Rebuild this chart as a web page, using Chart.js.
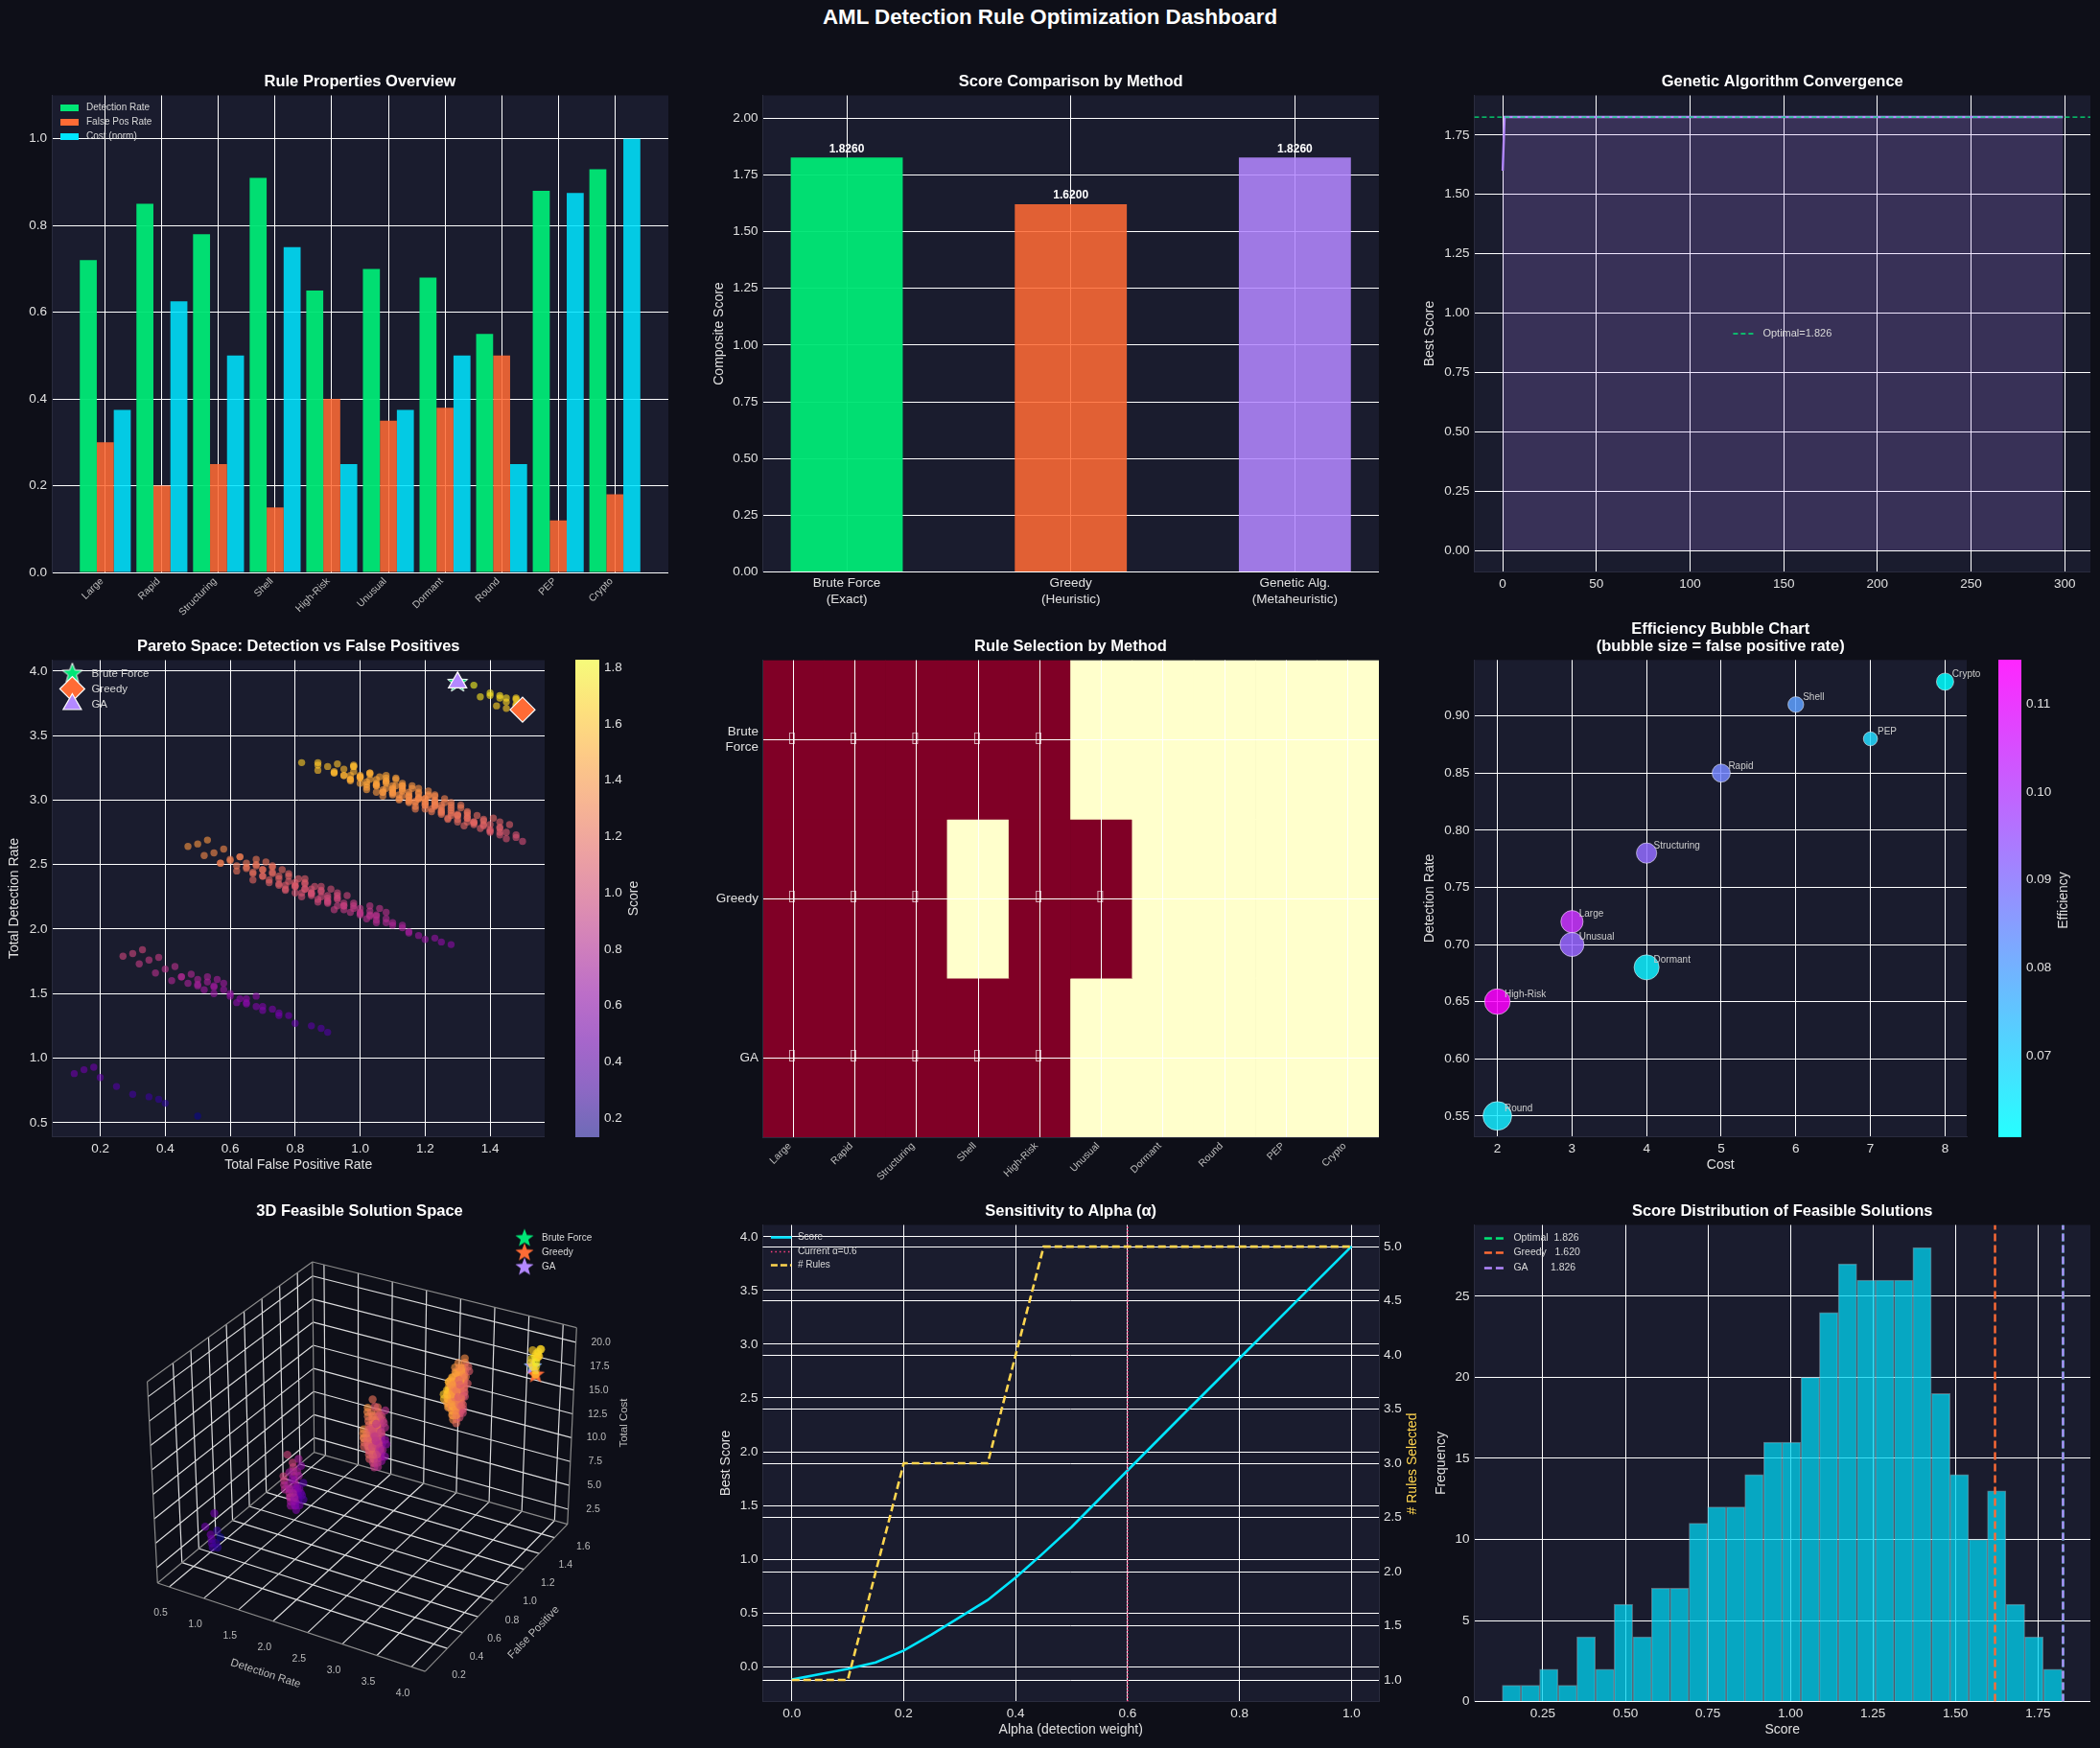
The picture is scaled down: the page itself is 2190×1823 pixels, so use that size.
<!DOCTYPE html>
<html>
<head>
<meta charset="utf-8">
<title>AML Detection Rule Optimization Dashboard</title>
<script src="https://cdn.jsdelivr.net/npm/chart.js@4/dist/chart.umd.min.js"></script>
<style>
  html, body { margin: 0; background: #0e0f18; width: 2190px; height: 1823px; overflow: hidden; }
  #fig { position: relative; width: 2190px; height: 1823px; }
  #fig canvas { position: absolute; }
  #suptitle { position: absolute; left: 0; width: 2190px; top: 5px; text-align: center; color: #fff;
    font: bold 22.3px "Liberation Sans", sans-serif; }
</style>
</head>
<body>
<div id="fig"><div id="suptitle">AML Detection Rule Optimization Dashboard</div></div>
<script>
// --- rules
const ruleNames = ['Large', 'Rapid', 'Structuring', 'Shell', 'High-Risk', 'Unusual', 'Dormant', 'Round', 'PEP', 'Crypto'];
const ruleDetection = [0.72, 0.85, 0.78, 0.91, 0.65, 0.70, 0.68, 0.55, 0.88, 0.93];
const ruleFalsePos = [0.30, 0.20, 0.25, 0.15, 0.40, 0.35, 0.38, 0.50, 0.12, 0.18];
const ruleCost = [3, 5, 4, 6, 2, 3, 4, 2, 7, 8];
const ruleCostNorm = [0.375, 0.625, 0.5, 0.75, 0.25, 0.375, 0.5, 0.25, 0.875, 1.0];
const ruleEfficiency = [0.104, 0.086, 0.092, 0.081, 0.115, 0.0933, 0.064, 0.065, 0.0686, 0.0608];

// --- methods
const methodLabels = [['Brute Force', '(Exact)'], ['Greedy', '(Heuristic)'], ['Genetic Alg.', '(Metaheuristic)']];
const methodScores = [1.826, 1.62, 1.826];
const methodPoints = { brute: [1.30, 3.91, 20], greedy: [1.50, 3.70, 17], ga: [1.30, 3.91, 20] };
const selectionRows = [['Brute', 'Force'], 'Greedy', 'GA'];
const selBrute = [1, 1, 1, 1, 1, 0, 0, 0, 0, 0];
const selGreedy = [1, 1, 1, 0, 1, 1, 0, 0, 0, 0];
const selGA = [1, 1, 1, 1, 1, 0, 0, 0, 0, 0];

// --- GA convergence
const gaGenerations = [0, 1, 299];
const gaBest = [1.6, 1.826, 1.826];

// --- alpha sensitivity
const alphaValues = [0, 0.05, 0.1, 0.15, 0.2, 0.25, 0.3, 0.35, 0.4, 0.45, 0.5, 0.6, 0.7, 0.8, 0.9, 1.0];
const alphaScores = [-0.12, -0.07, -0.02, 0.04, 0.15, 0.30, 0.46, 0.62, 0.83, 1.06, 1.30, 1.826, 2.35, 2.87, 3.39, 3.91];
const alphaRules = [1, 1, 1, 2, 3, 3, 3, 3, 4, 5, 5, 5, 5, 5, 5, 5];

// --- score histogram
const histCenters = [0.155, 0.212, 0.268, 0.325, 0.381, 0.438, 0.494, 0.551, 0.607, 0.664, 0.721, 0.777, 0.834, 0.890, 0.947,
  1.003, 1.060, 1.116, 1.173, 1.230, 1.286, 1.343, 1.399, 1.456, 1.512, 1.569, 1.625, 1.682, 1.738, 1.795];
const histCounts = [1, 1, 2, 1, 4, 2, 6, 4, 7, 7, 11, 12, 12, 14, 16, 16, 20, 24, 27, 26, 26, 26, 28, 19, 14, 10, 13, 6, 4, 2];

// --- feasible rule sets, grouped by how many rules they hold
const pairFp = [.50,.55,.45,.70,.65,.68,.80,.42,.48,.45,.35,.60,.55,.58,.70,.32,.38,.40,.65,.60,.63,.75,.37,.43,.55,.50,.53,.65,.27,.33,.75,.78,.90,.52,.58,.73,.85,.47,.53,.88,.50,.56,.62,.68,.30];
const pairDet = [1.57,1.50,1.63,1.37,1.42,1.40,1.27,1.60,1.65,1.63,1.76,1.50,1.55,1.53,1.40,1.73,1.78,1.69,1.43,1.48,1.46,1.33,1.66,1.71,1.56,1.61,1.59,1.46,1.79,1.84,1.35,1.33,1.20,1.53,1.58,1.38,1.25,1.58,1.63,1.23,1.56,1.61,1.43,1.48,1.81];
const pairCost = [8,7,9,5,6,7,5,10,11,9,11,7,8,9,7,12,13,10,6,7,8,6,11,12,8,9,10,8,13,14,5,6,4,9,10,7,5,10,11,6,11,12,9,10,15];

const tripleFp = [.75,.65,.90,.85,.88,1.00,.62,.68, .70,.95,.90,.93,1.05,.67,.73, .85,.80,.83,.95,.57,.63, 1.05,1.08,1.20,.82,.88, 1.03,1.15,.77,.83, 1.18,.80,.86, .92,.98, .60,
  .60,.85,.80,.83,.95,.57,.63, .75,.70,.73,.85,.47,.53, .95,.98,1.10,.72,.78, .93,1.05,.67,.73, 1.08,.70,.76, .82,.88, .50,
  .80,.75,.78,.90,.52,.58, 1.00,1.03,1.15,.77,.83, .98,1.10,.72,.78, 1.13,.75,.81, .87,.93, .55,
  .90,.93,1.05,.67,.73, .88,1.00,.62,.68, 1.03,.65,.71, .77,.83, 1.13,1.25,.87,.93, 1.28,.90,.96, 1.02,1.08, .70, 1.23,.85,.91, .97,1.03, .65, 1.00,1.06, .68, .80];
const tripleDet = [2.35,2.48,2.22,2.27,2.25,2.12,2.45,2.50, 2.41,2.15,2.20,2.18,2.05,2.38,2.43, 2.28,2.33,2.31,2.18,2.51,2.56, 2.07,2.05,1.92,2.25,2.30, 2.10,1.97,2.30,2.35, 1.95,2.28,2.33, 2.15,2.20, 2.53,
  2.54,2.28,2.33,2.31,2.18,2.51,2.56, 2.41,2.46,2.44,2.31,2.64,2.69, 2.20,2.18,2.05,2.38,2.43, 2.23,2.10,2.43,2.48, 2.08,2.41,2.46, 2.28,2.33, 2.66,
  2.34,2.39,2.37,2.24,2.57,2.62, 2.13,2.11,1.98,2.31,2.36, 2.16,2.03,2.36,2.41, 2.01,2.34,2.39, 2.21,2.26, 2.59,
  2.26,2.24,2.11,2.44,2.49, 2.29,2.16,2.49,2.54, 2.14,2.47,2.52, 2.34,2.39, 2.03,1.90,2.23,2.28, 1.88,2.21,2.26, 2.08,2.13, 2.46, 1.93,2.26,2.31, 2.13,2.18, 2.51, 2.11,2.16, 2.49, 2.36];
const tripleCost = [12,14,10,11,12,10,15,16, 13,9,10,11,9,14,15, 11,12,13,11,16,17, 8,9,7,12,13, 10,8,13,14, 9,14,15, 12,13, 18,
  15,11,12,13,11,16,17, 13,14,15,13,18,19, 10,11,9,14,15, 12,10,15,16, 11,16,17, 14,15, 20,
  12,13,14,12,17,18, 9,10,8,13,14, 11,9,14,15, 10,15,16, 13,14, 19,
  11,12,10,15,16, 13,11,16,17, 12,17,18, 15,16, 9,7,12,13, 8,13,14, 11,12, 17, 9,14,15, 12,13, 18, 13,14, 19, 17];

const quadFp = [.90,1.15,1.10,1.13,1.25,.87,.93, 1.05,1.00,1.03,1.15, 1.25,1.28,1.40,1.02,1.08, 1.23,1.35,.97,1.03, 1.38,1.00,1.06, 1.12,1.18,
  1.10,1.05,1.08,1.20,.82, 1.30,1.33,1.45,1.07,1.13, 1.28,1.40,1.02,1.08, 1.43,1.05,1.11, 1.17,1.23,
  1.20,1.23,1.35,.97,1.03, 1.18,1.30,.92,.98, 1.33,.95, 1.07,1.13, 1.43,1.17,1.23, 1.20,1.26, 1.32,1.38, 1.00, 1.15,1.21, 1.27,1.33, 1.30,1.36, 1.10,
  1.00,.95,.98,1.10, 1.20,1.23,1.35,.97,1.03, 1.18,1.30,.92,.98, 1.33,.95, 1.07,1.13, 1.10,1.13,1.25,.87, 1.08,1.20, 1.23, .97,
  1.33,1.45,1.07,1.13, 1.48,1.10,1.16, 1.22,1.28, 1.43,1.05,1.11, 1.17,1.23, 1.20,1.26,
  1.15,1.18,1.30,.92,.98, 1.13,1.25,.87, 1.28, 1.02,1.08, 1.38,1.50,1.12,1.18, 1.15,1.21, 1.27,1.33, 1.48,1.10,1.16, 1.22,1.28, 1.25,1.31,
  1.28,1.40,1.02,1.08, 1.43,1.05,1.11, 1.17,1.23, 1.38,1.00, 1.12,1.18, 1.15,1.21, 1.25,1.31, 1.37,1.43, 1.05, 1.40,1.46, 1.20, 1.35,1.41, 1.15];
const quadDet = [3.26,3.00,3.05,3.03,2.90,3.23,3.28, 3.13,3.18,3.16,3.03, 2.92,2.90,2.77,3.10,3.15, 2.95,2.82,3.15,3.20, 2.80,3.13,3.18, 3.00,3.05,
  3.06,3.11,3.09,2.96,3.29, 2.85,2.83,2.70,3.03,3.08, 2.88,2.75,3.08,3.13, 2.73,3.06,3.11, 2.93,2.98,
  2.98,2.96,2.83,3.16,3.21, 3.01,2.88,3.21,3.26, 2.86,3.19, 3.06,3.11, 2.75,2.95,3.00, 2.93,2.98, 2.80,2.85, 3.18, 2.98,3.03, 2.85,2.90, 2.83,2.88, 3.08,
  3.19,3.24,3.22,3.09, 2.98,2.96,2.83,3.16,3.21, 3.01,2.88,3.21,3.26, 2.86,3.19, 3.06,3.11, 3.11,3.09,2.96,3.29, 3.14,3.01, 2.99, 3.19,
  2.88,2.75,3.08,3.13, 2.73,3.06,3.11, 2.93,2.98, 2.78,3.11,3.16, 2.98,3.03, 2.96,3.01,
  3.04,3.02,2.89,3.22,3.27, 3.07,2.94,3.27, 2.92, 3.12,3.17, 2.81,2.68,3.01,3.06, 2.99,3.04, 2.86,2.91, 2.71,3.04,3.09, 2.91,2.96, 2.89,2.94,
  2.94,2.81,3.14,3.19, 2.79,3.12,3.17, 2.99,3.04, 2.84,3.17, 3.04,3.09, 3.02,3.07, 2.91,2.96, 2.78,2.83, 3.16, 2.76,2.81, 3.01, 2.81,2.86, 3.06];
const quadCost = [18,14,15,16,14,19,20, 16,17,18,16, 13,14,12,17,18, 15,13,18,19, 14,19,20, 17,18,
  15,16,17,15,20, 12,13,11,16,17, 14,12,17,18, 13,18,19, 16,17,
  14,15,13,18,19, 16,14,19,20, 15,20, 18,19, 12,15,16, 16,17, 14,15, 20, 17,18, 15,16, 16,17, 20,
  17,18,19,17, 14,15,13,18,19, 16,14,19,20, 15,20, 18,19, 16,17,15,20, 18,16, 17, 20,
  14,12,17,18, 13,18,19, 16,17, 14,19,20, 17,18, 18,19,
  15,16,14,19,20, 17,15,20, 16, 19,20, 13,11,16,17, 17,18, 15,16, 13,18,19, 16,17, 17,18,
  15,13,18,19, 14,19,20, 17,18, 15,20, 18,19, 19,20, 16,17, 14,15, 20, 15,16, 19, 16,17, 20];

const fiveFp = [1.30,1.50,1.40,1.43,1.50,1.40,1.48,1.37,1.45,1.48,1.43,1.42,1.45,1.48,1.35,1.50,1.45,1.48];
const fiveDet = [3.91,3.70,3.83,3.81,3.73,3.81,3.73,3.80,3.76,3.74,3.79,3.73,3.71,3.78,3.89,3.74,3.79,3.79];
const fiveCost = [20,17,19,20,19,20,19,20,18,19,20,19,20,20,20,19,20,20];

const feasibleFp = [...ruleFalsePos, ...pairFp, ...tripleFp, ...quadFp, ...fiveFp];
const feasibleDet = [...ruleDetection, ...pairDet, ...tripleDet, ...quadDet, ...fiveDet];
const feasibleCost = [...ruleCost, ...pairCost, ...tripleCost, ...quadCost, ...fiveCost];

// --- tick values
const binaryTicks = [0, 0.2, 0.4, 0.6, 0.8, 1.0];
const currentAlpha = 0.6;

// --- look
const GREEN = '#00E676', ORANGE = '#FF6B35', CYAN = '#00E5FF', PURPLE = '#B388FF', YELLOW = '#FFD54F', PINK = '#FF4081';
const PLOT_BG = '#1a1c2e', TICK = '#e0e0e0', SPINE = '#2a2c3e';
Chart.defaults.font.family = '"Liberation Sans", Arial, sans-serif';
Chart.defaults.animation = false;

const PLASMA = [[13,8,135],[65,4,157],[106,0,168],[143,13,164],[177,42,144],[204,71,120],[225,100,98],[242,132,75],[252,166,54],[252,206,37],[240,249,33]];
function plasmaRgb(t) {
  t = Math.min(1, Math.max(0, t)) * 10;
  const i = Math.min(9, Math.floor(t)), f = t - i;
  return PLASMA[i].map((c, k) => Math.round(c + (PLASMA[i + 1][k] - c) * f));
}
function scoreColor(det, fp, a = 0.62) {
  const score = currentAlpha * det - (1 - currentAlpha) * fp;
  const [r, g, b] = plasmaRgb((score - 0.13) / (1.826 - 0.13));
  return `rgba(${r},${g},${b},${a})`;
}
function coolColor(eff, a = 0.85) {
  const t = (eff - 0.0608) / (0.115 - 0.0608);
  return `rgba(${Math.round(255 * t)},${Math.round(255 * (1 - t))},255,${a})`;
}

function starImage(r, fill, stroke) {
  const c = document.createElement('canvas');
  c.width = c.height = Math.ceil(r * 2 + 2);
  const g = c.getContext('2d');
  g.translate(c.width / 2, c.height / 2);
  g.beginPath();
  for (let i = 0; i < 10; i++) {
    const rad = i % 2 ? r * 0.42 : r, ang = -Math.PI / 2 + i * Math.PI / 5;
    g[i ? 'lineTo' : 'moveTo'](Math.cos(ang) * rad, Math.sin(ang) * rad);
  }
  g.closePath();
  g.fillStyle = fill;
  g.fill();
  if (stroke) { g.strokeStyle = stroke; g.lineWidth = 1; g.stroke(); }
  return c;
}

function axis(position, min, max, tickValues, o = {}) {
  return {
    type: 'linear', position, min, max, reverse: !!o.reverse, display: o.display !== false, offset: false,
    afterBuildTicks: s => { s.ticks = tickValues.map(v => ({ value: v })); },
    afterFit: s => {
      if (position === 'bottom') s.height = o.size; else s.width = o.size;
      s.paddingLeft = s.paddingRight = s.paddingTop = s.paddingBottom = 0;
    },
    grid: { color: '#ffffff', lineWidth: 1, drawTicks: false, offset: false, z: o.gridZ || 0, display: o.grid !== false },
    border: { color: SPINE, width: 1, z: o.gridZ || 0 },
    ticks: {
      color: o.tickColor || TICK, font: { size: o.fontSize || 13.5 }, padding: o.pad === undefined ? 5 : o.pad,
      labelOffset: o.labelOffset || 0,
      autoSkip: false, maxRotation: o.rot || 0, minRotation: o.rot || 0, callback: o.fmt || (v => v)
    },
    title: o.title ? { display: true, text: o.title, color: TICK, font: { size: 14 }, padding: 0 } : { display: false }
  };
}

function drawLegend(ctx, lg) {
  ctx.font = `${lg.size || 10}px "Liberation Sans"`;
  ctx.textBaseline = 'middle';
  ctx.textAlign = 'left';
  lg.items.forEach(it => {
    const midX = (lg.x0 + lg.x1) / 2;
    ctx.save();
    if (it.kind === 'patch') {
      ctx.fillStyle = it.color;
      ctx.fillRect(lg.x0, it.y - 3.5, lg.x1 - lg.x0, 7);
    } else if (it.kind === 'line') {
      ctx.strokeStyle = it.color;
      ctx.lineWidth = it.width || 2;
      ctx.setLineDash(it.dash || []);
      ctx.beginPath();
      ctx.moveTo(lg.x0, it.y);
      ctx.lineTo(lg.x1, it.y);
      ctx.stroke();
    } else {
      ctx.fillStyle = it.color;
      ctx.strokeStyle = '#ffffff';
      ctx.lineWidth = 1.2;
      Chart.helpers.drawPoint(ctx, { pointStyle: it.style, radius: it.radius, rotation: 0, borderWidth: 1.2 }, midX, it.y);
    }
    ctx.restore();
    ctx.fillStyle = lg.color || '#d8d8d8';
    ctx.fillText(it.label, lg.textX, it.y);
  });
}

// canvas box + plot rect in page pixels; chart area lands exactly on the plot rect
function panel(box, config, extra = {}) {
  const cv = document.createElement('canvas');
  cv.width = box.x1 - box.x0;
  cv.height = box.y1 - box.y0;
  cv.style.left = box.x0 + 'px';
  cv.style.top = box.y0 + 'px';
  document.getElementById('fig').appendChild(cv);
  config.options = config.options || {};
  Object.assign(config.options, { responsive: false, maintainAspectRatio: false, devicePixelRatio: 1, events: [] });
  const titleLines = [].concat(extra.title || []);
  const titleLh = extra.titleLh || 1.2;
  config.options.layout = { autoPadding: false, padding: { left: 0, bottom: 0, top: 0, right: box.padRight || 0 } };
  config.options.plugins = {
    legend: { display: false },
    tooltip: { enabled: false },
    title: extra.title ? {
      display: true, text: titleLines, color: '#ffffff', fullSize: false,
      font: { size: 16.5, weight: 'bold', lineHeight: titleLh },
      padding: { top: 0, bottom: box.t - box.y0 - titleLines.length * 16.5 * titleLh }
    } : { display: false }
  };
  config.plugins = [{
    id: 'fig',
    beforeDraw(chart) {
      if (extra.plotBg === false) return;
      const a = chart.chartArea;
      chart.ctx.fillStyle = extra.plotBg || PLOT_BG;
      chart.ctx.fillRect(a.left, a.top, a.right - a.left, a.bottom - a.top);
    },
    afterDraw(chart) {
      const ctx = chart.ctx;
      ctx.save();
      ctx.translate(-box.x0, -box.y0);
      if (extra.after) extra.after(chart, ctx);
      (extra.texts || []).forEach(t => {
        ctx.save();
        ctx.translate(t.x, t.y);
        ctx.rotate((t.rot || 0) * Math.PI / 180);
        ctx.font = `${t.size || 14}px "Liberation Sans"`;
        ctx.fillStyle = t.color || TICK;
        ctx.textAlign = 'center';
        ctx.textBaseline = 'middle';
        ctx.fillText(t.text, 0, 0);
        ctx.restore();
      });
      if (extra.legend) drawLegend(ctx, extra.legend);
      ctx.restore();
    }
  }];
  return new Chart(cv, config);
}

function colorbar(box, ticks, min, max, stops, fmt, text) {
  panel(box, {
    type: 'scatter',
    data: { datasets: [] },
    options: {
      scales: {
        x: { type: 'linear', display: false },
        y: Object.assign(axis('right', min, max, ticks, { size: box.x1 - box.r, grid: false, fmt, pad: 5 }), { border: { display: false } })
      }
    }
  }, {
    plotBg: false,
    texts: [text],
    after(chart, ctx) {
      const a = chart.chartArea;
      const g = ctx.createLinearGradient(0, a.bottom, 0, a.top);
      stops.forEach((c, i) => g.addColorStop(i / (stops.length - 1), c));
      ctx.save();
      ctx.translate(box.x0, box.y0);
      ctx.fillStyle = g;
      ctx.fillRect(a.left, a.top, a.right - a.left, a.bottom - a.top);
      ctx.restore();
    }
  });
}

// --- Rule Properties Overview
panel({ x0: 0, y0: 75.5, x1: 697, y1: 660, t: 99 }, {
  type: 'bar',
  data: {
    datasets: [
      { data: ruleDetection.map((v, i) => ({ x: i, y: v })), backgroundColor: 'rgba(0,230,118,0.96)' },
      { data: ruleFalsePos.map((v, i) => ({ x: i, y: v })), backgroundColor: 'rgba(255,107,53,0.87)' },
      { data: ruleCostNorm.map((v, i) => ({ x: i, y: v })), backgroundColor: 'rgba(0,229,255,0.87)' }
    ].map(d => Object.assign(d, { categoryPercentage: 0.9, barPercentage: 1, borderWidth: 0 }))
  },
  options: {
    scales: {
      x: axis('bottom', -0.945, 9.945, ruleNames.map((_, i) => i), { size: 63, rot: 45, fontSize: 10.5, tickColor: '#bbbbbb', pad: 3, labelOffset: -3.5, fmt: v => ruleNames[v] }),
      y: axis('left', 0, 1.1, binaryTicks, { size: 54, fmt: v => v.toFixed(1) })
    }
  }
}, {
  title: 'Rule Properties Overview',
  legend: {
    x0: 63, x1: 82, textX: 90, size: 10,
    items: [
      { kind: 'patch', color: GREEN, label: 'Detection Rate', y: 112 },
      { kind: 'patch', color: ORANGE, label: 'False Pos Rate', y: 127 },
      { kind: 'patch', color: CYAN, label: 'Cost (norm)', y: 142 }
    ]
  }
});

// --- Score Comparison by Method
panel({ x0: 741.6, y0: 75.5, x1: 1438, y1: 635.4, t: 99 }, {
  type: 'bar',
  data: {
    datasets: [{
      data: methodScores.map((v, i) => ({ x: i, y: v })),
      backgroundColor: ['rgba(0,230,118,0.96)', 'rgba(255,107,53,0.87)', 'rgba(179,136,255,0.87)'],
      categoryPercentage: 0.5, barPercentage: 1, borderWidth: 0
    }]
  },
  options: {
    scales: {
      x: axis('bottom', -0.375, 2.375, [0, 1, 2], { size: 38.4, fmt: v => methodLabels[v], pad: 4 }),
      y: axis('left', 0, 2.1, [0, 0.25, 0.5, 0.75, 1, 1.25, 1.5, 1.75, 2], { size: 53.4, fmt: v => v.toFixed(2), title: 'Composite Score' })
    }
  }
}, {
  title: 'Score Comparison by Method',
  after(chart, ctx) {
    ctx.font = 'bold 12px "Liberation Sans"';
    ctx.fillStyle = '#ffffff';
    ctx.textAlign = 'center';
    ctx.textBaseline = 'bottom';
    methodScores.forEach((v, i) => {
      ctx.fillText(v.toFixed(4), chart.scales.x.getPixelForValue(i) + 741.6, chart.scales.y.getPixelForValue(v) + 75.5 - 3);
    });
  }
});

// --- Genetic Algorithm Convergence
panel({ x0: 1482.6, y0: 75.5, x1: 2180, y1: 635.4, t: 99 }, {
  type: 'line',
  data: {
    datasets: [
      {
        data: gaGenerations.map((g, i) => ({ x: g, y: gaBest[i] })), borderColor: PURPLE, borderWidth: 2.4, pointRadius: 0,
        fill: { value: 0 }, backgroundColor: 'rgba(179,136,255,0.2)', tension: 0, order: 2
      },
      {
        data: [{ x: -15.2, y: methodScores[0] }, { x: 313.7, y: methodScores[0] }], borderColor: GREEN, borderWidth: 1.3,
        borderDash: [5, 3], pointRadius: 0, fill: false, order: 1
      }
    ]
  },
  options: {
    scales: {
      x: axis('bottom', -15.2, 313.7, [0, 50, 100, 150, 200, 250, 300], { size: 38.4 }),
      y: axis('left', -0.091, 1.917, [0, 0.25, 0.5, 0.75, 1, 1.25, 1.5, 1.75], { size: 54.4, fmt: v => v.toFixed(2), title: 'Best Score' })
    }
  }
}, {
  title: 'Genetic Algorithm Convergence',
  legend: { x0: 1807, x1: 1828, textX: 1838, size: 11, items: [{ kind: 'line', color: GREEN, width: 1.3, dash: [5, 3], label: 'Optimal=1.826', y: 347.5 }] }
});

// --- Pareto Space
const starGreen = starImage(11, GREEN, '#ffffff');
panel({ x0: 6.6, y0: 664.5, x1: 568, y1: 1224.4, t: 688 }, {
  type: 'scatter',
  data: {
    datasets: [
      {
        data: feasibleFp.map((f, i) => ({ x: f, y: feasibleDet[i] })), order: 5, pointRadius: 3.7, pointBorderWidth: 0,
        backgroundColor: feasibleFp.map((f, i) => scoreColor(feasibleDet[i], f))
      },
      { data: [{ x: methodPoints.brute[0], y: methodPoints.brute[1] }], order: 3, pointStyle: starGreen, pointRadius: 11, clip: false },
      { data: [{ x: methodPoints.greedy[0], y: methodPoints.greedy[1] }], order: 2, pointStyle: 'rectRot', pointRadius: 13, backgroundColor: ORANGE, borderColor: '#ffffff', borderWidth: 1.2, clip: false },
      { data: [{ x: methodPoints.ga[0], y: methodPoints.ga[1] }], order: 1, pointStyle: 'triangle', pointRadius: 11, backgroundColor: PURPLE, borderColor: '#ffffff', borderWidth: 1.2, clip: false }
    ]
  },
  options: {
    scales: {
      x: axis('bottom', 0.052, 1.568, [0.2, 0.4, 0.6, 0.8, 1.0, 1.2, 1.4], { size: 38.4, fmt: v => v.toFixed(1), title: 'Total False Positive Rate' }),
      y: axis('left', 0.39, 4.084, [0.5, 1, 1.5, 2, 2.5, 3, 3.5, 4], { size: 47.4, fmt: v => v.toFixed(1), title: 'Total Detection Rate' })
    }
  }
}, {
  title: 'Pareto Space: Detection vs False Positives',
  legend: {
    x0: 64, x1: 86, textX: 95, size: 11.5,
    items: [
      { style: starGreen, radius: 11, label: 'Brute Force', y: 702 },
      { style: 'rectRot', radius: 13, color: ORANGE, label: 'Greedy', y: 718 },
      { style: 'triangle', radius: 11, color: PURPLE, label: 'GA', y: 734 }
    ]
  }
});
colorbar({ x0: 600, y0: 688, x1: 700, y1: 1186, r: 625 }, [0.2, 0.4, 0.6, 0.8, 1.0, 1.2, 1.4, 1.6, 1.8], 0.132, 1.828,
  PLASMA.map(c => `rgb(${c.map(v => Math.round(v * 0.6 + 102)).join(',')})`), v => v.toFixed(1),
  { text: 'Score', x: 661, y: 937, rot: -90, size: 14 });

// --- Rule Selection by Method
const selectionRowsData = [selBrute, selGreedy, selGA];
panel({ x0: 730, y0: 664.5, x1: 1438, y1: 1240, t: 688 }, {
  type: 'bar',
  data: {
    datasets: selectionRowsData.map((row, r) => ({
      data: row.map((_, c) => ({ x: c, y: [r - 0.5, r + 0.5] })),
      backgroundColor: row.map(v => (v ? '#800026' : '#ffffcc')),
      categoryPercentage: 1, barPercentage: 1, borderWidth: 0, grouped: false
    }))
  },
  options: {
    scales: {
      x: axis('bottom', -0.5, 9.5, ruleNames.map((_, i) => i), { size: 54, rot: 45, fontSize: 10.5, tickColor: '#bbbbbb', pad: 3, labelOffset: -3.5, gridZ: 1, fmt: v => ruleNames[v] }),
      y: axis('left', -0.5, 2.5, [0, 1, 2], { size: 65, reverse: true, gridZ: 1, pad: 4, fmt: v => selectionRows[v] })
    }
  }
}, {
  title: 'Rule Selection by Method',
  plotBg: false,
  after(chart, ctx) {
    ctx.font = '16px "DejaVu Sans"';
    ctx.fillStyle = 'rgba(255,255,255,0.7)';
    ctx.textAlign = 'center';
    ctx.textBaseline = 'middle';
    const { x, y } = chart.scales;
    selectionRowsData.forEach((row, r) => row.forEach((v, c) => {
      if (v) ctx.fillText('\u25AF', x.getPixelForValue(c) + 730 - 1, y.getPixelForValue(r) + 664.5 - 2);
    }));
  }
});

// --- Efficiency Bubble Chart
panel({ x0: 1482.6, y0: 647.7, x1: 2110, y1: 1224.4, t: 688, padRight: 59 }, {
  type: 'scatter',
  data: {
    datasets: [{
      data: ruleCost.map((c, i) => ({ x: c, y: ruleDetection[i] })),
      pointRadius: ruleFalsePos.map(f => Math.sqrt(f) * 21.2),
      backgroundColor: ruleEfficiency.map(e => coolColor(e)),
      borderColor: 'rgba(255,255,255,0.65)', borderWidth: 0.8, clip: false
    }]
  },
  options: {
    scales: {
      x: axis('bottom', 1.69, 8.29, [2, 3, 4, 5, 6, 7, 8], { size: 38.4, title: 'Cost' }),
      y: axis('left', 0.5317, 0.949, [0.55, 0.6, 0.65, 0.7, 0.75, 0.8, 0.85, 0.9], { size: 54.4, fmt: v => v.toFixed(2), title: 'Detection Rate' })
    }
  }
}, {
  title: ['Efficiency Bubble Chart', '(bubble size = false positive rate)'],
  titleLh: 1.07,
  after(chart, ctx) {
    ctx.font = '10px "Liberation Sans"';
    ctx.fillStyle = '#cccccc';
    ctx.textAlign = 'left';
    ctx.textBaseline = 'middle';
    const { x, y } = chart.scales;
    ruleNames.forEach((n, i) => {
      ctx.fillText(n, x.getPixelForValue(ruleCost[i]) + 1482.6 + 7.4, y.getPixelForValue(ruleDetection[i]) + 647.7 - 7.5);
    });
  }
});
colorbar({ x0: 2084, y0: 688, x1: 2190, y1: 1186, r: 2108 }, [0.07, 0.08, 0.09, 0.10, 0.11], 0.0608, 0.115,
  ['rgb(38,255,255)', 'rgb(255,38,255)'], v => v.toFixed(2),
  { text: 'Efficiency', x: 2152, y: 939, rot: -90, size: 14 });

// --- 3D Feasible Solution Space: trilinear map of the data cube onto the drawn box
const gridCube = { xMin: 0.33, xMax: 4.197, yMin: -0.09, yMax: 1.769, zMin: 0.93, zMax: 21.53 };
const markCube = { xMin: 0.337, xMax: 4.09, yMin: 0, yMax: 1.628, zMin: 0.93, zMax: 21.53 };
const cubeCorners = {
  c000: [164.3, 1650.8], c100: [443.3, 1743], c110: [591.8, 1589.4], c010: [327.7, 1514.3],
  c001: [153.6, 1440.7], c101: [444, 1526.6], c111: [601.3, 1384.2], c011: [325.8, 1315.5]
};
function project(det, fp, cost, cube = markCube) {
  const u = (det - cube.xMin) / (cube.xMax - cube.xMin);
  const v = (fp - cube.yMin) / (cube.yMax - cube.yMin);
  const w = (cost - cube.zMin) / (cube.zMax - cube.zMin);
  const weights = { c000: (1 - u) * (1 - v) * (1 - w), c100: u * (1 - v) * (1 - w), c110: u * v * (1 - w), c010: (1 - u) * v * (1 - w),
    c001: (1 - u) * (1 - v) * w, c101: u * (1 - v) * w, c111: u * v * w, c011: (1 - u) * v * w };
  let px = 0, py = 0;
  for (const k in weights) { px += weights[k] * cubeCorners[k][0]; py += weights[k] * cubeCorners[k][1]; }
  return { x: px, y: py };
}
const projectGrid = (d, f, c) => project(d, f, c, gridCube);
const det3Ticks = [0.5, 1, 1.5, 2, 2.5, 3, 3.5, 4];
const fp3Ticks = [0.2, 0.4, 0.6, 0.8, 1.0, 1.2, 1.4, 1.6];
const cost3Ticks = [2.5, 5, 7.5, 10, 12.5, 15, 17.5, 20];
function segments(list) {
  const out = [];
  list.forEach(([a, b]) => { out.push(projectGrid(...a), projectGrid(...b), { x: NaN, y: NaN }); });
  return out;
}
const { xMin, xMax, yMin, yMax, zMin, zMax } = gridCube;
const gridSegs = segments([
  ...det3Ticks.flatMap(d => [[[d, yMin, zMin], [d, yMax, zMin]], [[d, yMax, zMin], [d, yMax, zMax]]]),
  ...fp3Ticks.flatMap(f => [[[xMin, f, zMin], [xMax, f, zMin]], [[xMin, f, zMin], [xMin, f, zMax]]]),
  ...cost3Ticks.flatMap(c => [[[xMin, yMin, c], [xMin, yMax, c]], [[xMin, yMax, c], [xMax, yMax, c]]])
]);
const edgeSegs = segments([
  [[xMin, yMin, zMin], [xMax, yMin, zMin]], [[xMax, yMin, zMin], [xMax, yMax, zMin]], [[xMax, yMax, zMin], [xMin, yMax, zMin]], [[xMin, yMax, zMin], [xMin, yMin, zMin]],
  [[xMin, yMin, zMin], [xMin, yMin, zMax]], [[xMin, yMax, zMin], [xMin, yMax, zMax]], [[xMax, yMax, zMin], [xMax, yMax, zMax]],
  [[xMin, yMin, zMax], [xMin, yMax, zMax]], [[xMin, yMax, zMax], [xMax, yMax, zMax]]
]);
const star3 = [starImage(10, GREEN), starImage(10, ORANGE), starImage(10, PURPLE)];
panel({ x0: 0, y0: 1253.5, x1: 750, y1: 1823, t: 1277 }, {
  type: 'scatter',
  data: {
    datasets: [
      { data: gridSegs, showLine: true, borderColor: 'rgba(255,255,255,0.85)', borderWidth: 1.2, pointRadius: 0, order: 10 },
      { data: edgeSegs, showLine: true, borderColor: '#8a8a8a', borderWidth: 1.2, pointRadius: 0, order: 9 },
      { data: [project(methodPoints.greedy[1], methodPoints.greedy[0], methodPoints.greedy[2])], pointStyle: star3[1], pointRadius: 10, order: 7 },
      { data: [project(methodPoints.brute[1], methodPoints.brute[0], methodPoints.brute[2])], pointStyle: star3[0], pointRadius: 10, order: 7 },
      { data: [project(methodPoints.ga[1], methodPoints.ga[0], methodPoints.ga[2])], pointStyle: star3[2], pointRadius: 10, order: 6 },
      {
        data: feasibleFp.map((f, i) => project(feasibleDet[i], f, feasibleCost[i])), pointRadius: 4.2, pointBorderWidth: 0, order: 5,
        backgroundColor: feasibleFp.map((f, i) => scoreColor(feasibleDet[i], f, 0.62))
      }
    ]
  },
  options: {
    scales: {
      x: { type: 'linear', display: false, min: 0, max: 750 },
      y: { type: 'linear', display: false, min: 1277, max: 1823, reverse: true }
    }
  }
}, {
  title: '3D Feasible Solution Space',
  plotBg: false,
  texts: [
    ...det3Ticks.map(d => { const p = projectGrid(d, yMin, zMin); return { text: d.toFixed(1), x: p.x - 9, y: p.y + 27, size: 10.5, color: '#bbbbbb' }; }),
    ...fp3Ticks.map((f, i) => { const p = projectGrid(xMax, f, zMin), t = i / 7; return { text: f.toFixed(1), x: p.x + 12 + 18 * t, y: p.y + 28 - 19 * t, size: 10.5, color: '#bbbbbb' }; }),
    ...cost3Ticks.map(c => { const p = projectGrid(xMax, yMax, c); return { text: c.toFixed(1), x: p.x + 26, y: p.y, size: 10.5, color: '#bbbbbb' }; }),
    { text: 'Detection Rate', x: 277, y: 1745, rot: 18, size: 11.5, color: '#bbbbbb' },
    { text: 'False Positive', x: 556.6, y: 1702, rot: -46, size: 11.5, color: '#bbbbbb' },
    { text: 'Total Cost', x: 651, y: 1483.5, rot: -90, size: 11.5, color: '#bbbbbb' }
  ],
  legend: {
    x0: 537, x1: 557, textX: 565, size: 10,
    items: [
      { style: star3[0], radius: 10, label: 'Brute Force', y: 1291 },
      { style: star3[1], radius: 10, label: 'Greedy', y: 1306 },
      { style: star3[2], radius: 10, label: 'GA', y: 1321 }
    ]
  }
});

// --- Sensitivity to Alpha
panel({ x0: 748.6, y0: 1253.5, x1: 1500, y1: 1813.4, t: 1277, padRight: 0 }, {
  type: 'line',
  data: {
    datasets: [
      { data: alphaValues.map((a, i) => ({ x: a, y: alphaScores[i] })), borderColor: CYAN, borderWidth: 2.6, pointRadius: 0, yAxisID: 'y', order: 3 },
      { data: [{ x: currentAlpha, y: -0.325 }, { x: currentAlpha, y: 4.11 }], borderColor: PINK, borderWidth: 1.5, borderDash: [1.5, 2], pointRadius: 0, yAxisID: 'y', order: 2 },
      { data: alphaValues.map((a, i) => ({ x: a, y: alphaRules[i] })), borderColor: YELLOW, borderWidth: 2.6, borderDash: [8, 4], pointRadius: 0, yAxisID: 'y2', order: 1 }
    ]
  },
  options: {
    scales: {
      x: axis('bottom', -0.052, 1.049, binaryTicks, { size: 38.4, fmt: v => v.toFixed(1), title: 'Alpha (detection weight)' }),
      y: axis('left', -0.325, 4.11, [0, 0.5, 1, 1.5, 2, 2.5, 3, 3.5, 4], { size: 46.4, fmt: v => v.toFixed(1), title: 'Best Score' }),
      y2: axis('right', 0.8, 5.2, [1, 1.5, 2, 2.5, 3, 3.5, 4, 4.5, 5], { size: 62, fmt: v => v.toFixed(1) })
    }
  }
}, {
  title: 'Sensitivity to Alpha (\u03B1)',
  texts: [{ text: '# Rules Selected', x: 1473, y: 1526, rot: -90, size: 14, color: YELLOW }],
  legend: {
    x0: 803.5, x1: 825, textX: 831.5, size: 10,
    items: [
      { kind: 'line', color: CYAN, width: 2.6, label: 'Score', y: 1290 },
      { kind: 'line', color: PINK, width: 1.5, dash: [1.5, 3], label: 'Current \u03B1=0.6', y: 1305 },
      { kind: 'line', color: YELLOW, width: 2.6, dash: [7, 3], label: '# Rules', y: 1319 }
    ]
  }
});

// --- Score Distribution
const vline = (x, color, order) => ({
  type: 'line', data: [{ x, y: 0 }, { x, y: 29.4 }], borderColor: color, borderWidth: 2.4, borderDash: [8, 4], pointRadius: 0, order
});
panel({ x0: 1494.6, y0: 1253.5, x1: 2180, y1: 1813.4, t: 1277 }, {
  type: 'bar',
  data: {
    datasets: [
      {
        data: histCenters.map((c, i) => ({ x: c, y: histCounts[i] })), backgroundColor: 'rgba(0,212,240,0.76)',
        borderColor: 'rgba(150,175,190,0.55)', borderWidth: 1, categoryPercentage: 1, barPercentage: 1, order: 5
      },
      vline(methodScores[0], GREEN, 3),
      vline(methodScores[1], ORANGE, 2),
      vline(methodScores[2], PURPLE, 1)
    ]
  },
  options: {
    scales: {
      x: axis('bottom', 0.042, 1.909, [0.25, 0.5, 0.75, 1, 1.25, 1.5, 1.75], { size: 38.4, fmt: v => v.toFixed(2), title: 'Score' }),
      y: axis('left', 0, 29.4, [0, 5, 10, 15, 20, 25], { size: 42.4, title: 'Frequency' })
    }
  }
}, {
  title: 'Score Distribution of Feasible Solutions',
  legend: {
    x0: 1547.5, x1: 1570, textX: 1578, size: 10.5,
    items: [
      { kind: 'line', color: GREEN, width: 2.4, dash: [8, 4], label: 'Optimal  1.826', y: 1291 },
      { kind: 'line', color: ORANGE, width: 2.4, dash: [8, 4], label: 'Greedy   1.620', y: 1306 },
      { kind: 'line', color: PURPLE, width: 2.4, dash: [8, 4], label: 'GA        1.826', y: 1322 }
    ]
  }
});
</script>
</body>
</html>
